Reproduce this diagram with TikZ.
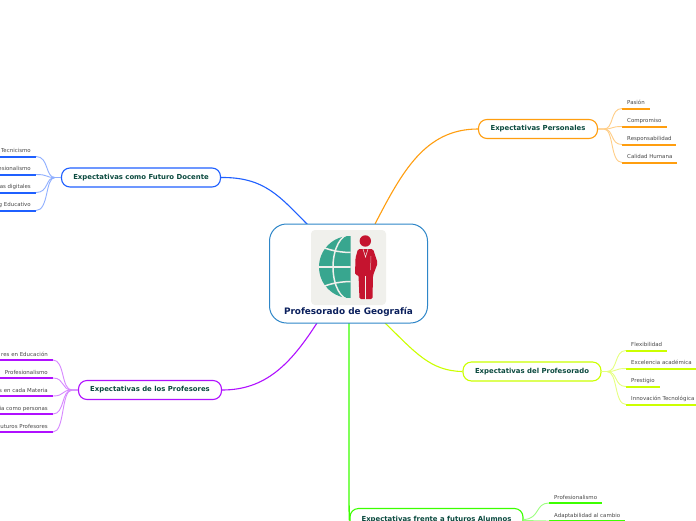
\documentclass[tikz,border=0pt]{standalone}
\usepackage{fontspec}
\setmainfont{DejaVu Sans}
\definecolor{cblue}{HTML}{1F60FF}
\definecolor{corange}{HTML}{FF9E0F}
\definecolor{cyell}{HTML}{CCFF00}
\definecolor{cpurp}{HTML}{B010FF}
\definecolor{cgreen}{HTML}{3CFF00}
\definecolor{croot}{HTML}{2E86C8}
\definecolor{ttl}{HTML}{0B4A3F}
\definecolor{troot}{HTML}{0A1F5C}
\definecolor{tleaf}{HTML}{484848}
\definecolor{teal}{HTML}{38A68F}
\definecolor{cred}{HTML}{C5142F}
\definecolor{imgbg}{HTML}{F0F0EC}
\tikzset{
  mainbox/.style={draw=#1,line width=1.1pt,rounded corners=8.5pt,fill=white,minimum height=19pt,inner sep=0pt,font=\bfseries\fontsize{6.9}{8}\selectfont,text=ttl},
  branch/.style={draw=#1,line width=1.1pt},
  leafline/.style={draw=#1,line width=2pt},
  leaflink/.style={draw=#1!50,line width=0.9pt},
  leaftext/.style={font=\fontsize{5.45}{6}\selectfont,text=tleaf,inner sep=0pt},
}
\newcommand{\leafR}[6]{%
  \coordinate (#1s) at (#3,#5); \coordinate (#1e) at (#4,#5);
  \draw[leafline=#2] (#1s) -- (#1e);
  \node[leaftext,anchor=base west] (#1) at (#3+5,#5-4) {#6};
}
\newcommand{\leafL}[5]{%
  \coordinate (#1e) at (#3,#4); \coordinate (#1s) at (0,#4);
  \draw[leafline=#2] (#1s) -- (#1e);
  \node[leaftext,anchor=base east] (#1) at (#3-5,#4-4) {#5};
}
\begin{document}
\begin{tikzpicture}[x=1pt,y=-1pt]
\useasboundingbox (0,0) rectangle (696,520);
\clip (0,0) rectangle (696,520);
\fill[white] (0,0) rectangle (696,520);
\coordinate (rb) at (308,225);
\coordinate (ro) at (375,224);
\coordinate (ry) at (385,323);
\coordinate (rp) at (317,323);
\coordinate (rg) at (349,323);
% main nodes
\node[mainbox=cblue,minimum width=159pt] (docente) at (141,177.5) {Expectativas como Futuro Docente};
\node[mainbox=corange,minimum width=119pt] (personal) at (538,129) {Expectativas Personales};
\node[mainbox=cyell,minimum width=138pt] (profdo) at (532,371.5) {Expectativas del Profesorado};
\node[mainbox=cpurp,minimum width=143pt] (profes) at (150,390) {Expectativas de los Profesores};
\node[mainbox=cgreen,minimum width=173pt,minimum height=24pt] (alum) at (436.5,520.5) {};
\node[font=\bfseries\fontsize{6.9}{8}\selectfont,text=ttl,inner sep=0pt,anchor=base] (alumt) at (436.5,521) {Expectativas frente a futuros Alumnos};
% branches
\draw[branch=cblue] (docente.east) .. controls (265,177) and (280,197) .. (rb);
\draw[branch=corange] (ro) .. controls (402,172) and (425,129) .. (personal.west);
\draw[branch=cyell] (ry) .. controls (415,352) and (430,371) .. (profdo.west);
\draw[branch=cpurp] (rp) .. controls (290,365) and (265,390) .. (profes.east);
\draw[branch=cgreen,line width=1.4pt] (rg) -- (349,500) .. controls (349,512) and (349.5,516) .. (alum.west);
% root
\node[draw=croot,line width=1pt,rounded corners=17pt,fill=white,minimum width=158pt,minimum height=99pt,inner sep=0pt] (root) at (348.5,273.5) {};
\fill[imgbg,rounded corners=4pt] (311,230) rectangle (386,305);
\node[font=\bfseries\fontsize{8.9}{10}\selectfont,text=troot,inner sep=0pt] (roott) at (348.5,311.5) {Profesorado de Geografía};
% globe
\begin{scope}
\clip (318,235) rectangle (350.5,299);
\fill[teal] (350,267) circle (31);
\draw[imgbg,line width=1.5pt] (350.5,267) ellipse (17.5 and 33);
\draw[imgbg,line width=1.5pt] (315,267) -- (352,267);
\draw[imgbg,line width=1.5pt] (322,247) .. controls (332,251) and (342,252.5) .. (352,252.5);
\draw[imgbg,line width=1.5pt] (322,287) .. controls (332,283) and (342,281.5) .. (352,281.5);
\end{scope}
% person
\fill[cred] (365.3,241) circle (5.7);
\fill[cred,rounded corners=1.5pt] (358,249) -- (373,249) -- (377.7,263) -- (373,275.5) -- (372.5,299) -- (359.5,299) -- (358.5,275) -- (355,275) -- (355.5,258) -- cycle;
\draw[imgbg,line width=0.8pt] (365.7,276) -- (365.7,299.5);
\draw[imgbg,line width=0.5pt] (363,249) -- (365.5,257) -- (368,249);
\draw[imgbg!70!cred,line width=0.5pt] (371,256) -- (370.5,270);
% orange leaves
\leafR{o1}{corange}{622}{650}{108.5}{Pasión}
\leafR{o2}{corange}{622}{667}{126.5}{Compromiso}
\leafR{o3}{corange}{622}{676}{144.5}{Responsabilidad}
\leafR{o4}{corange}{622}{677}{162.5}{Calidad Humana}
\foreach \k/\ky in {o1s/108.5,o2s/126.5,o3s/144.5,o4s/162.5}
  \draw[leaflink=corange] (personal.east) -- (604,129) .. controls (614,129) and (610,\ky) .. (\k);
% yellow leaves
\leafR{y1}{cyell}{626}{667}{350.5}{Flexibilidad}
\leafR{y2}{cyell}{626}{696}{368.5}{Excelencia académica}
\leafR{y3}{cyell}{626}{660}{386.5}{Prestigio}
\leafR{y4}{cyell}{626}{696}{404.5}{Innovación Tecnológica}
\foreach \k/\ky in {y1s/350.5,y2s/368.5,y3s/386.5,y4s/404.5}
  \draw[leaflink=cyell] (profdo.east) -- (607,371.5) .. controls (618,371.5) and (614,\ky) .. (\k);
% green leaves
\leafR{g1}{cgreen}{549}{602}{503}{Profesionalismo}
\leafR{g2}{cgreen}{549}{625}{521}{Adaptabilidad al cambio}
\draw[leaflink=cgreen] (alum.east) ++(0,-1) .. controls (540,519) and (535,503) .. (g1s);
\draw[leaflink=cgreen] (alum.east) -- (g2s);
% left leaves
\leafL{b1}{cblue}{36}{156.5}{Tecnicismo}
\leafL{b2}{cblue}{36}{174.5}{esionalismo}
\leafL{b3}{cblue}{36}{192.5}{as digitales}
\leafL{b4}{cblue}{36}{210.5}{g Educativo}
\foreach \k/\ky in {b1e/156.5,b2e/174.5,b3e/192.5,b4e/210.5}
  \draw[leaflink=cblue] (docente.west) -- (55,177.5) .. controls (45,177.5) and (49,\ky) .. (\k);
\leafL{p1}{cpurp}{53}{360}{res en Educación}
\leafL{p2}{cpurp}{53}{378}{Profesionalismo}
\leafL{p3}{cpurp}{53}{396}{s en cada Materia}
\leafL{p4}{cpurp}{53}{414}{ia como personas}
\leafL{p5}{cpurp}{53}{432}{uturos Profesores}
\foreach \k/\ky in {p1e/360,p2e/378,p3e/396,p4e/414,p5e/432}
  \draw[leaflink=cpurp] (profes.west) -- (72,390) .. controls (61,390) and (65,\ky) .. (\k);
\end{tikzpicture}
\end{document}
